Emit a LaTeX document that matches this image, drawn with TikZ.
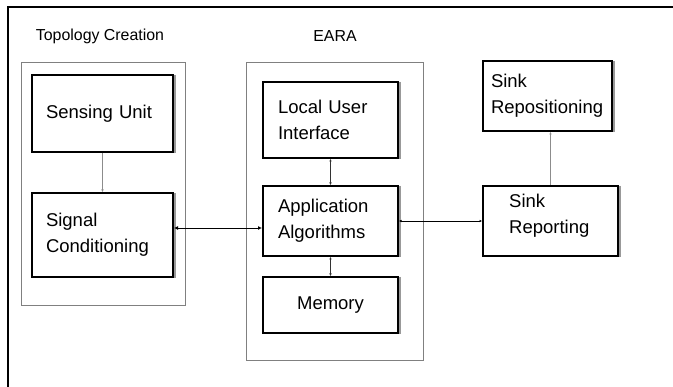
\documentclass[tikz,border=0pt]{standalone}
\usepackage{fontspec}
\setmainfont{Liberation Sans}
\usetikzlibrary{arrows.meta}
\begin{document}
\begin{tikzpicture}[x=1pt,y=-1pt,
  blk/.style={draw=black, line width=2pt, rectangle, inner ysep=0pt, font=\fontsize{18.5}{26}\selectfont, align=left},
  txt/.style={inner ysep=0pt, font=\fontsize{18.5}{26}\selectfont, align=left},
  grp/.style={draw=black!50, line width=0.8pt, rectangle, inner sep=0pt},
  lbl/.style={font=\fontsize{15.9}{19}\selectfont, inner sep=0pt},
  tiny/.style={{Latex[length=2.5pt,width=2.5pt]}-{Latex[length=2.5pt,width=2.5pt]}},
  conn/.style={line width=0.8pt},
  shadow/.style={black!40, line width=2.6pt}
]
\useasboundingbox (0,0) rectangle (673,387);
% outer frame
\draw[line width=1.3pt] (8,387) -- (8,7) -- (673,7);
% group labels
\node[lbl] (tl) at (100,36) {Topology Creation};
\node[lbl] (el) at (335,36) {EARA};
% group boxes
\node[grp, minimum width=164pt, minimum height=243pt] (topo) at (103,183.5) {};
\node[grp, minimum width=177pt, minimum height=298pt] (eara) at (334.5,211) {};
% shadows (drawn first, under the blocks)
\foreach \cx/\cy/\w/\h in {102.5/113.5/141/77, 102.5/235/141/84, 330.5/120/135/76, 330.5/221/135/70, 330.5/305/135/56, 547.5/96/129/70, 550.5/221/135/70}
  \draw[shadow] (\cx+\w/2+2,\cy-\h/2) -- (\cx+\w/2+2,\cy+\h/2+1);
% blocks
\node[blk, inner xsep=14pt, text width=113pt, minimum height=77pt] (sens) at (102.5,113.5) {Sensing Unit};
\node[blk, inner xsep=14pt, text width=113pt, minimum height=84pt] (sig) at (102.5,235) {Signal\\Conditioning};
\node[blk, inner xsep=15pt, text width=105pt, minimum height=76pt] (lui) at (330.5,120) {Local User\\Interface};
\node[blk, inner xsep=15pt, text width=105pt, minimum height=70pt] (app) at (330.5,221) {Application\\Algorithms};
\node[blk, inner xsep=5pt, text width=125pt, align=center, minimum height=56pt] (mem) at (330.5,305) {Memory};
\node[blk, inner xsep=8pt, text width=113pt, minimum height=70pt] (spos) at (547.5,96) {Sink\\Repositioning};
\node[blk, inner sep=0pt, minimum width=135pt, minimum height=70pt] (srep) at (550.5,221) {};
\node[txt, inner xsep=0pt, text width=83pt, anchor=west] (srept) at (509,215.5) {Sink\\Reporting};
% connectors
\draw[black!45, line width=1.2pt, -{Latex[length=2.5pt,width=2.5pt]}] (sens.south) -- (sig.north);
\draw[conn, {Latex[length=4pt,width=4pt]}-{Latex[length=4pt,width=4pt]}] ([yshift=7pt]sig.east) -- ([yshift=7pt]sig.east -| app.west);
\draw[conn, black!80, tiny] (lui.south) -- (app.north);
\draw[conn, black!80, tiny] (app.south) -- (mem.north);
\draw[conn, tiny] (app.east) -- (srep.west);
\draw[black!45, line width=1.5pt, -{Latex[length=2.5pt,width=2.5pt]}] (srep.north) -- (srep.north |- spos.south);
\end{tikzpicture}
\end{document}
